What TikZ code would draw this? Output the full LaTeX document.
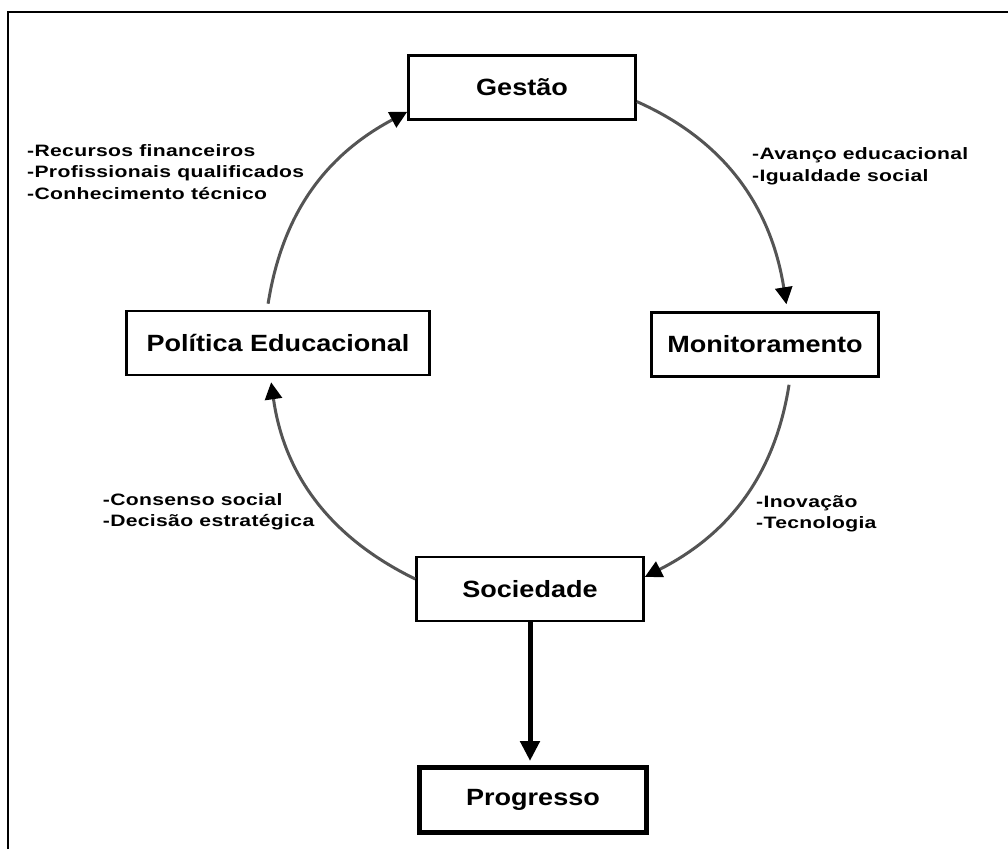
\documentclass[tikz,border=0pt]{standalone}
\usepackage{fontspec}
\usepackage{tikz}
\usetikzlibrary{arrows.meta}
\setmainfont{Liberation Sans}
\newfontfamily\stagefont{Liberation Sans}[FakeStretch=1.15]
\newfontfamily\notefont{Liberation Sans}[FakeStretch=1.28,LetterSpace=2]
\newcommand\boxtext{\stagefont\bfseries\fontsize{23.5}{28}\selectfont}
\newcommand\notetext{\notefont\bfseries\fontsize{16.5}{21.5}\selectfont}

\begin{document}
\begin{tikzpicture}[x=1pt,y=1pt,
    stagebox/.style={draw, line width=2.7pt, minimum width=227pt, minimum height=64pt, inner sep=0pt, font=\boxtext},
    notelist/.style={align=left, inner sep=0pt, anchor=base west, font=\notetext},
    cyclearrow/.style={draw=black!67, line width=3pt, -{Triangle[length=17pt,width=17pt,color=black]}},
    bigarrow/.style={line width=5pt, -{Triangle[length=20pt,width=19pt]}}]
    \useasboundingbox (0,0) rectangle (1008,849);

    % Frame
    \draw[line width=2pt] (8,0) -- (8,837) -- (1008,837);

    % Stages of the cycle
    \node[stagebox] (gestao) at (522,761.5) {Gestão};
    \node[stagebox] (monitor) at (765,504.5) {Monitoramento};
    \node[stagebox] (sociedade) at (530,260) {Sociedade};
    \node[stagebox, minimum width=303pt] (politica) at (278,506) {Política Educacional};

    % Result
    \node[stagebox, line width=5pt, minimum height=65pt] (progresso) at (533,49) {Progresso};

    % Notes beside the arcs (anchored at the last line)
    \node[notelist] (notegestao) at (27,649.7) {-Recursos financeiros\\-Profissionais qualificados\\-Conhecimento técnico};
    \node[notelist] (notemonitor) at (752,667.5) {-Avanço educacional\\-Igualdade social};
    \node[notelist] (notepolitica) at (102.7,322.3) {-Consenso social\\-Decisão estratégica};
    \node[notelist] (notesociedade) at (756,320) {-Inovação\\-Tecnologia};

    % Cycle
    \draw[cyclearrow, shorten >=7pt] (gestao.-7) to[out=-24, in=99] (monitor.56);
    \draw[cyclearrow, shorten <=7pt] (monitor.-53) to[out=-99, in=27] (sociedade.6);
    \draw[cyclearrow, shorten >=6pt] (sociedade.175) to[out=154, in=-82] (politica.-103);
    \draw[cyclearrow, shorten <=6pt] (politica.108) to[out=81, in=208] (gestao.192);

    % Way out
    \draw[bigarrow, shorten >=4pt] (sociedade.south) -- (sociedade.south |- progresso.north);
\end{tikzpicture}
\end{document}
